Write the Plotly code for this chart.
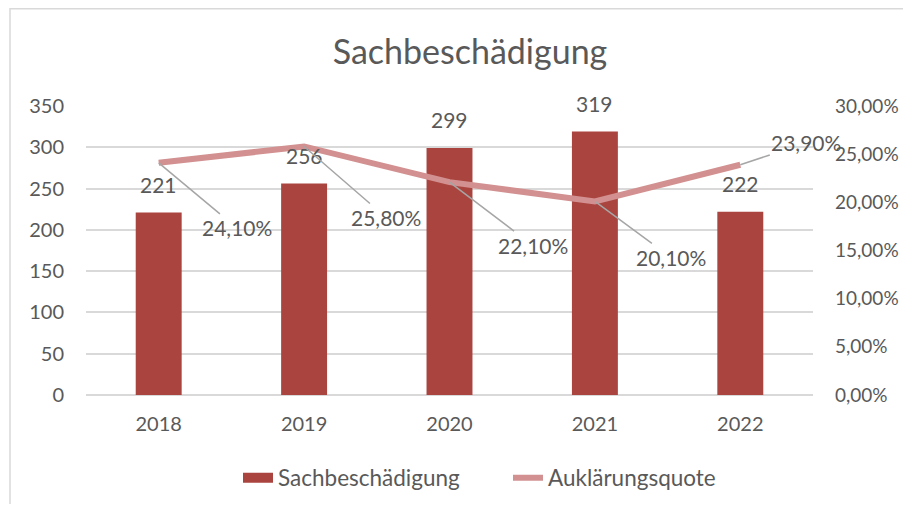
import plotly.graph_objects as go

years = ["2018", "2019", "2020", "2021", "2022"]
faelle = [221, 256, 299, 319, 222]
quote = [0.241, 0.258, 0.221, 0.201, 0.239]
quote_labels = ["24,10%", "25,80%", "22,10%", "20,10%", "23,90%"]
y2_tickvals = [0, 0.05, 0.10, 0.15, 0.20, 0.25, 0.30]
y2_ticktext = ["0,00%", "5,00%", "10,00%", "15,00%", "20,00%", "25,00%", "30,00%"]
label_offsets = [(78, 65), (82, 71), (83, 63), (76, 56), (66, -22)]

FONT = "Lato"
TXT = "#595959"
BAR = "#A9443F"
LINE = "#D29090"
# page has an 8px body margin; figure sized to fit the 911x512 window
W, H = 895, 496
L, R, T, B = 78, 90, 98, 109

fig = go.Figure()
fig.add_trace(go.Bar(x=years, y=faelle, name="Sachbeschädigung", showlegend=False,
                     marker=dict(color=BAR, line=dict(width=0)), yaxis="y"))
fig.add_trace(go.Scatter(x=[None], y=[None], name="Sachbeschädigung", mode="lines",
                         line=dict(color=BAR, width=14), yaxis="y", showlegend=True))
fig.add_trace(go.Scatter(x=years, y=quote, name="Auklärungsquote", mode="lines",
                         line=dict(color=LINE, width=6), yaxis="y2"))

ann = []
for i, v in enumerate(faelle):
    ann.append(dict(x=i, y=v, xref="x", yref="y", text=str(v), showarrow=False,
                    yanchor="bottom", yshift=14, font=dict(family=FONT, size=21, color=TXT)))
for i, (v, t, (ax, ay)) in enumerate(zip(quote, quote_labels, label_offsets)):
    ann.append(dict(x=i, y=v, xref="x", yref="y2", text=t, showarrow=True,
                    arrowhead=0, arrowwidth=1.5, arrowcolor="#A6A6A6", ax=ax, ay=ay,
                    standoff=0, font=dict(family=FONT, size=21, color=TXT)))

pw = W - L - R
ph = H - T - B
fig.update_layout(
    width=W, height=H,
    margin=dict(l=L, r=R, t=T, b=B, autoexpand=False),
    paper_bgcolor="white", plot_bgcolor="white",
    font=dict(family=FONT, size=20, color=TXT),
    title=dict(text="Sachbeschädigung", x=462 / W, xanchor="center", y=1 - 44 / H,
               yanchor="middle", font=dict(family=FONT, size=34, color=TXT)),
    bargap=0.684,
    xaxis=dict(type="category", categoryorder="array", categoryarray=years,
               range=[-0.5, len(years) - 0.5], autorange=False, automargin=False,
               showgrid=False, showline=False, ticks="",
               tickfont=dict(size=20), ticklabelstandoff=15),
    yaxis=dict(range=[0, 350], dtick=50, showgrid=True, gridcolor="#D9D9D9", gridwidth=1.5,
               zeroline=True, zerolinecolor="#D9D9D9", zerolinewidth=1.5, automargin=False,
               tickfont=dict(size=20), ticklabelstandoff=21),
    yaxis2=dict(range=[0, 0.30], overlaying="y", side="right", tickvals=y2_tickvals,
                ticktext=y2_ticktext, showgrid=False, zeroline=False, automargin=False,
                tickfont=dict(size=19), ticklabelstandoff=21),
    legend=dict(orientation="h", x=230 / W, xanchor="left", xref="container",
                yref="container", y=1 - 470 / H, yanchor="middle",
                entrywidth=225, entrywidthmode="pixels",
                font=dict(size=22.5, color=TXT), traceorder="normal"),
    annotations=ann,
    shapes=[dict(type="rect", xref="paper", yref="paper",
                 x0=(2 - L) / pw, x1=(W + 20 - L) / pw,
                 y0=-(H + 20 - T - ph) / ph, y1=1 + (T - 0.75) / ph,
                 line=dict(color="#D9D9D9", width=1.5), fillcolor="rgba(0,0,0,0)", layer="below")],
)
fig.write_html("out.html")
